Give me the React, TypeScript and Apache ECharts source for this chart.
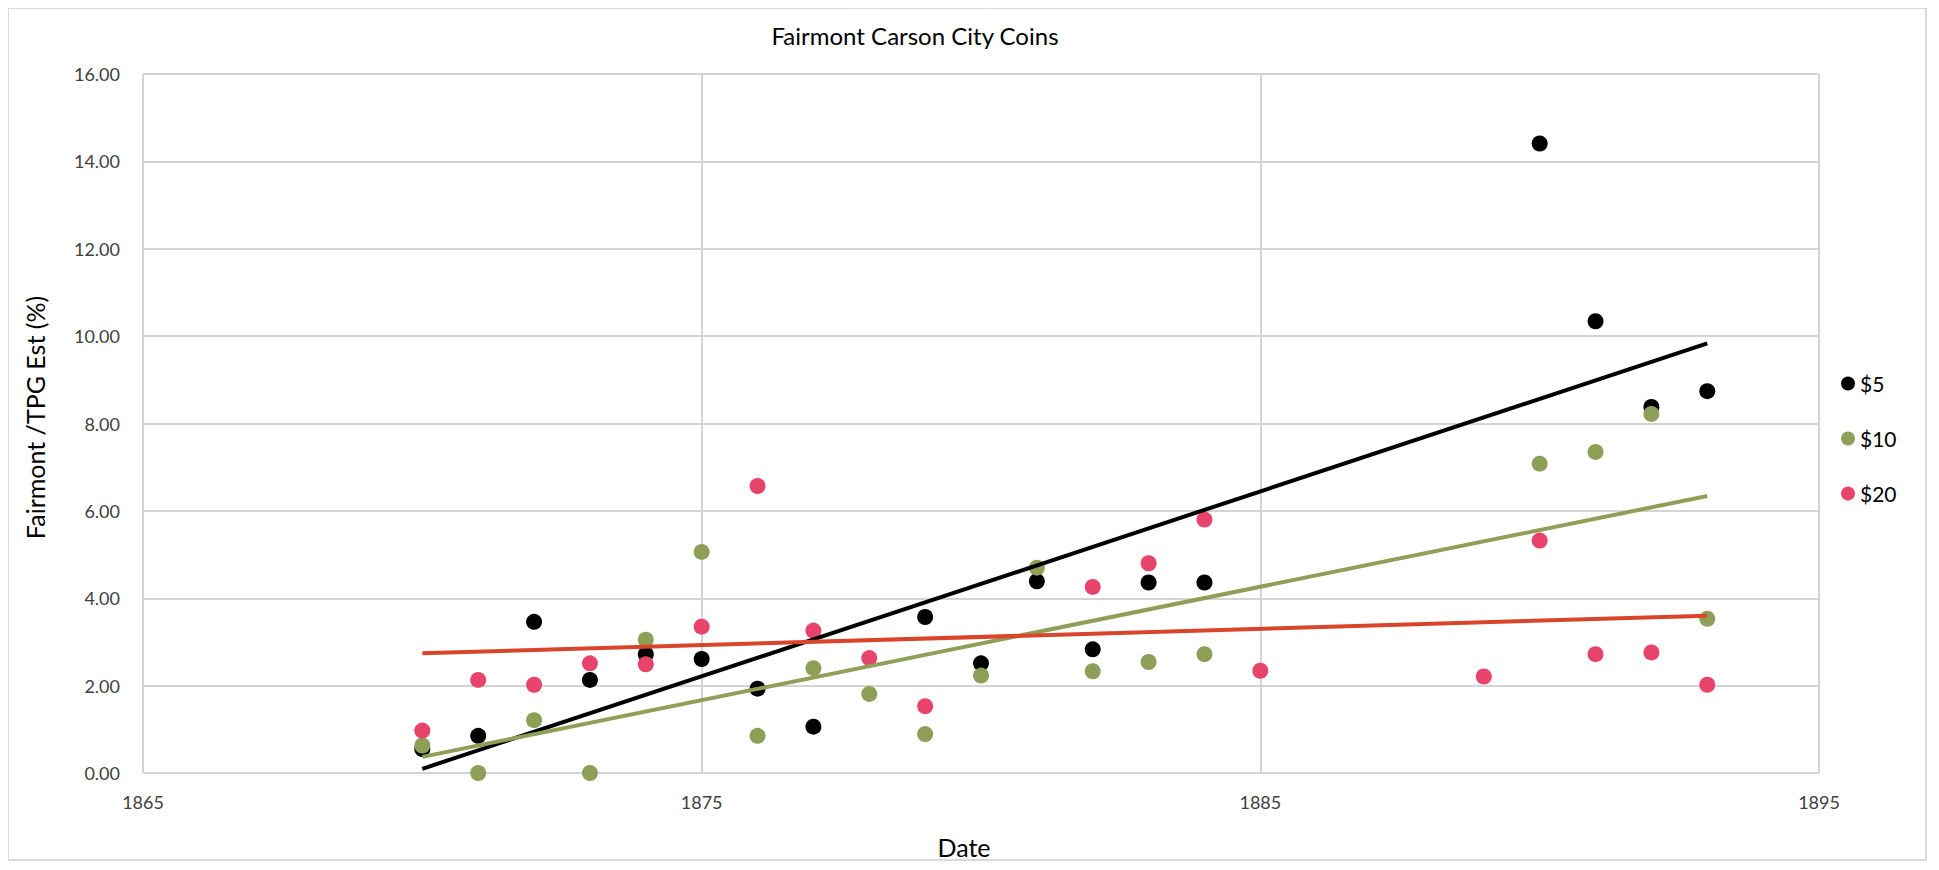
import React, { useEffect, useRef } from "react";
import * as echarts from "echarts";

const years5 = [1870, 1871, 1872, 1873, 1874, 1875, 1876, 1877, 1879, 1880, 1881, 1882, 1883, 1884, 1890, 1891, 1892, 1893];
const values5 = [0.55, 0.85, 3.46, 2.13, 2.72, 2.61, 1.93, 1.06, 3.57, 2.51, 4.39, 2.83, 4.36, 4.36, 14.41, 10.34, 8.38, 8.74];

const years10 = [1870, 1871, 1872, 1873, 1874, 1875, 1876, 1877, 1878, 1879, 1880, 1881, 1882, 1883, 1884, 1890, 1891, 1892, 1893];
const values10 = [0.63, 0.0, 1.21, 0.0, 3.05, 5.06, 0.85, 2.4, 1.81, 0.89, 2.23, 4.7, 2.33, 2.54, 2.72, 7.08, 7.35, 8.22, 3.53];

const years20 = [1870, 1871, 1872, 1873, 1874, 1875, 1876, 1877, 1878, 1879, 1882, 1883, 1884, 1885, 1889, 1890, 1891, 1892, 1893];
const values20 = [0.97, 2.13, 2.02, 2.51, 2.49, 3.35, 6.57, 3.26, 2.63, 1.53, 4.26, 4.8, 5.8, 2.34, 2.21, 5.32, 2.72, 2.76, 2.02];

const seriesNames = ["$5", "$10", "$20"];
const pointColors = ["#000000", "#8E9F58", "#E8436A"];
const trendColors = ["#000000", "#8E9F58", "#D9442B"];

const xTicks = { min: 1865, max: 1895, step: 10 };
const yTicks = { min: 0, max: 16, step: 2 };

function pairs(xs: number[], ys: number[]) {
  return xs.map((x, i) => [x, ys[i]]);
}

function trend(xs: number[], ys: number[]) {
  const n = xs.length;
  const mx = xs.reduce((a, b) => a + b, 0) / n;
  const my = ys.reduce((a, b) => a + b, 0) / n;
  let sxy = 0;
  let sxx = 0;
  for (let i = 0; i < n; i++) {
    sxy += (xs[i] - mx) * (ys[i] - my);
    sxx += (xs[i] - mx) * (xs[i] - mx);
  }
  const slope = sxy / sxx;
  const b = my - slope * mx;
  const x0 = Math.min(...xs);
  const x1 = Math.max(...xs);
  return [
    [x0, b + slope * x0],
    [x1, b + slope * x1],
  ];
}

export default function App() {
  const ref = useRef<HTMLDivElement>(null);
  useEffect(() => {
    if (!ref.current) return;
    const chart = echarts.init(ref.current, null, { renderer: "svg" });
    const font = "Lato";
    const sets = [
      [years5, values5],
      [years10, values10],
      [years20, values20],
    ];
    const scatter = sets.map(([xs, ys], i) => ({
      name: seriesNames[i],
      type: "scatter",
      data: pairs(xs, ys),
      symbol: "circle",
      symbolSize: 16,
      itemStyle: { color: pointColors[i], opacity: 1 },
      z: 2 + i,
    }));
    const lines = sets.map(([xs, ys], i) => ({
      name: seriesNames[i] + " trend",
      type: "line",
      data: trend(xs, ys),
      symbol: "none",
      lineStyle: { color: trendColors[i], width: 4 },
      itemStyle: { color: trendColors[i] },
      z: 6 + i,
      silent: true,
    }));
    chart.setOption({
      animation: false,
      backgroundColor: "#ffffff",
      textStyle: { fontFamily: font },
      graphic: [
        {
          type: "rect",
          shape: { x: 0, y: 0, width: 1918, height: 852 },
          style: { fill: "none", stroke: "#d9d9d9", lineWidth: 2 },
          silent: true,
        },
      ],
      title: {
        text: "Fairmont Carson City Coins",
        left: 907,
        top: 15,
        textAlign: "center",
        padding: 0,
        textStyle: { fontFamily: font, fontSize: 24, fontWeight: "normal", color: "#000000" },
      },
      legend: {
        data: seriesNames,
        orient: "vertical",
        left: 1833,
        top: 365,
        itemWidth: 14,
        itemHeight: 14,
        itemGap: 34,
        icon: "circle",
        padding: 0,
        textStyle: { fontFamily: font, fontSize: 21, color: "#000000" },
      },
      grid: { left: 135, top: 66, width: 1676, height: 706, containLabel: false },
      xAxis: {
        type: "value",
        min: xTicks.min,
        max: xTicks.max,
        interval: xTicks.step,
        name: "Date",
        nameLocation: "middle",
        nameGap: 61,
        nameTextStyle: { fontFamily: font, fontSize: 25, color: "#000000", padding: [0, 34, 0, 0] },
        axisLine: { show: false },
        axisTick: { show: false },
        axisLabel: {
          margin: 20,
          fontFamily: font,
          fontSize: 18,
          color: "#404040",
          formatter: (v: number) => String(v),
        },
        splitLine: { show: true, lineStyle: { color: "#d4d4d4", width: 2 } },
      },
      yAxis: {
        type: "value",
        min: yTicks.min,
        max: yTicks.max,
        interval: yTicks.step,
        name: "Fairmont /TPG Est (%)",
        nameLocation: "middle",
        nameGap: 96,
        nameTextStyle: { fontFamily: font, fontSize: 25, color: "#000000", padding: [0, 0, 0, 12] },
        axisLine: { show: false },
        axisTick: { show: false },
        axisLabel: {
          margin: 23,
          fontFamily: font,
          fontSize: 18,
          color: "#404040",
          formatter: (v: number) => v.toFixed(2),
        },
        splitLine: { show: true, lineStyle: { color: "#d4d4d4", width: 2 } },
      },
      series: [...scatter, ...lines],
    });
    return () => chart.dispose();
  }, []);
  return <div ref={ref} style={{ width: 1923, height: 856 }} />;
}
